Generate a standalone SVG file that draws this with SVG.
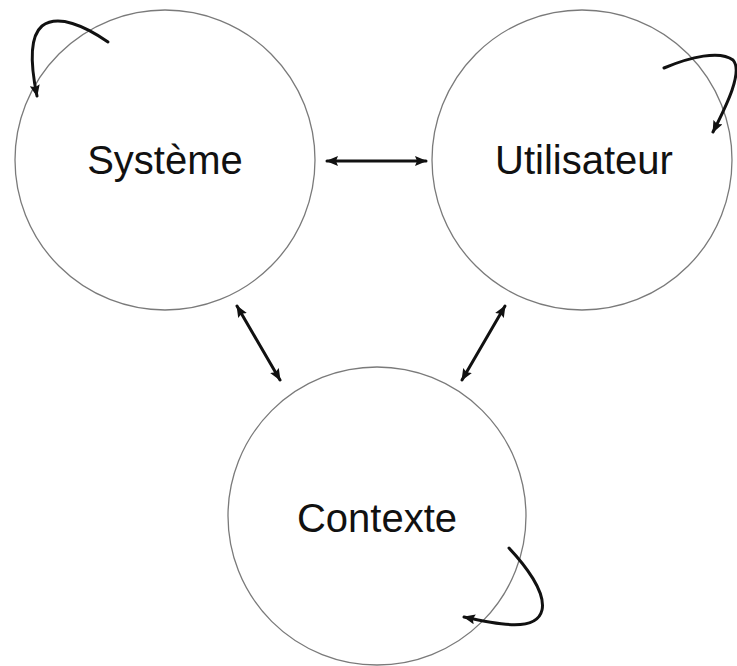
<svg xmlns="http://www.w3.org/2000/svg" width="737" height="666" viewBox="0 0 737 666">
<style>
.node circle{fill:none;stroke:#7a7a7a;stroke-width:1.3}
.node text{font-family:"Liberation Sans",Arial,Helvetica,sans-serif;font-size:40px;fill:#111;text-anchor:middle}
.conn path{fill:none;stroke:#111;stroke-width:3;stroke-linecap:round}
</style>
<defs>
<marker id="ah" viewBox="0 0 12 10" refX="11" refY="5" markerWidth="12" markerHeight="10" markerUnits="userSpaceOnUse" orient="auto-start-reverse">
<path d="M0,0 L12,5 L0,10 L2,5 z" fill="#111"/>
</marker>
</defs>
<rect width="737" height="666" fill="#fff"/>
<g id="systeme" class="node">
<circle cx="165" cy="160" r="150"/>
<text x="165" y="174">Système</text>
</g>
<g id="utilisateur" class="node">
<circle cx="582" cy="160" r="150"/>
<text x="584" y="174">Utilisateur</text>
</g>
<g id="contexte" class="node">
<circle cx="377" cy="516" r="149"/>
<text x="377" y="532">Contexte</text>
</g>
<g id="connectors" class="conn">
<path d="M327 161 L426 161" marker-start="url(#ah)" marker-end="url(#ah)"/>
<path d="M237 306 L280 380" marker-start="url(#ah)" marker-end="url(#ah)"/>
<path d="M505 306 L462 380" marker-start="url(#ah)" marker-end="url(#ah)"/>
<path d="M108 42 C85 26 58 14 42 26 C28 38 32 72 37 96" marker-end="url(#ah)"/>
<path d="M664 68 C690 57 720 50 733 60 C744 72 724 110 713 132" marker-end="url(#ah)"/>
<path d="M509 548 C525 565 546 592 542 610 C537 632 500 625 464 617" marker-end="url(#ah)"/>
</g>
</svg>
